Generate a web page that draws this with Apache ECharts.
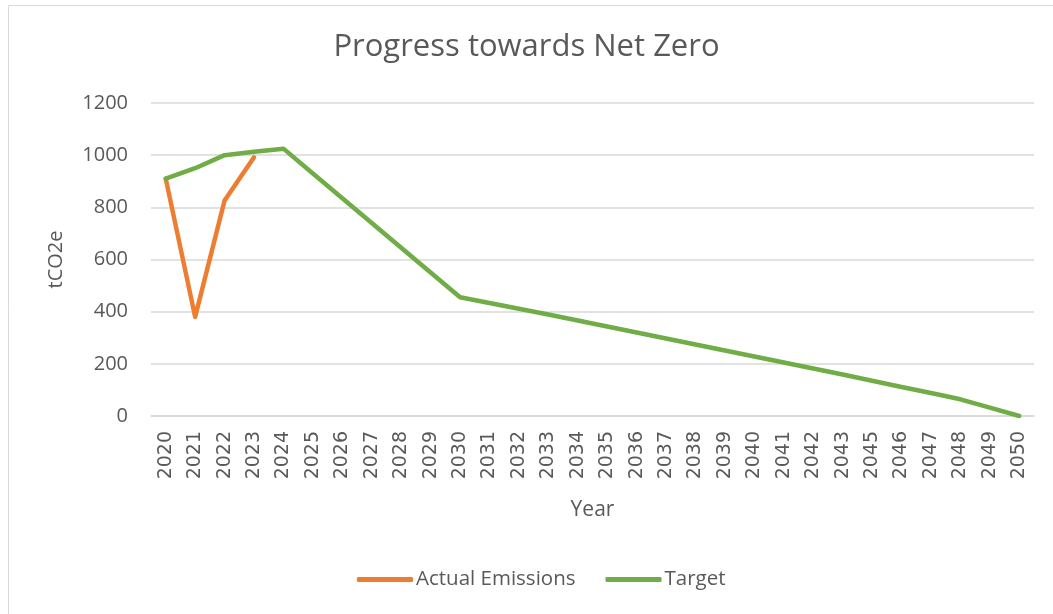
<!DOCTYPE html>
<html>
<head>
<meta charset="utf-8">
<style>
  html, body { margin: 0; padding: 0; background: #fff; }
  #chart { width: 1053px; height: 614px; }
</style>
<script src="https://cdn.jsdelivr.net/npm/echarts@6/dist/echarts.min.js"></script>
</head>
<body>
<div id="chart"></div>
<script>
// years on the axis (2044 is not in the source sheet)
var years = ['2020', '2021', '2022', '2023', '2024', '2025', '2026', '2027', '2028', '2029',
  '2030', '2031', '2032', '2033', '2034', '2035', '2036', '2037', '2038', '2039',
  '2040', '2041', '2042', '2043', '2045', '2046', '2047', '2048', '2049', '2050'];

var actualEmissions = [910, 380, 826, 992];

var target = [910, 950, 1000, 1013, 1025, 930, 835, 740, 645, 550,
  455, 433, 411, 389, 366, 343, 320, 297, 274, 251,
  228, 205, 182, 159, 135, 111, 88, 64, 32, 0];

var yTicks = { min: 0, max: 1200, interval: 200 };

var textColor = '#595959';
var chart = echarts.init(document.getElementById('chart'));

var option = {
  backgroundColor: '#fff',
  textStyle: { fontFamily: 'Open Sans' },
  graphic: [{
    type: 'rect',
    shape: { x: 8.5, y: 5.5, width: 1060, height: 620 },
    style: { fill: 'none', stroke: '#d9d9d9', lineWidth: 1 },
    silent: true
  }],
  title: {
    text: 'Progress towards Net Zero',
    left: 'center',
    top: 27,
    textStyle: { color: textColor, fontSize: 31, fontWeight: 'normal', fontFamily: 'Open Sans' }
  },
  legend: {
    top: 564,
    left: 352,
    itemWidth: 56,
    itemHeight: 5,
    itemGap: 30,
    icon: 'roundRect',
    textStyle: { color: textColor, fontSize: 20.5, padding: [0, 0, 0, -2] },
    data: ['Actual Emissions', 'Target']
  },
  grid: { left: 151, right: 19, top: 103, bottom: 198, containLabel: false },
  xAxis: {
    type: 'category',
    data: years,
    boundaryGap: true,
    name: 'Year',
    nameLocation: 'middle',
    nameGap: 84,
    nameTextStyle: { color: textColor, fontSize: 21 },
    axisLine: { lineStyle: { color: '#d9d9d9', width: 1.5 } },
    axisTick: { show: false },
    axisLabel: { rotate: 90, interval: 0, color: textColor, fontSize: 19, fontFamily: 'DejaVu Sans', margin: 15 }
  },
  yAxis: {
    type: 'value',
    min: yTicks.min,
    max: yTicks.max,
    interval: yTicks.interval,
    name: 'tCO2e',
    nameLocation: 'middle',
    nameGap: 85,
    nameRotate: 90,
    nameTextStyle: { color: textColor, fontSize: 20 },
    axisLine: { show: false },
    axisTick: { show: false },
    axisLabel: {
      color: textColor, fontSize: 20, margin: 23,
      formatter: function (v) { return String(v); }
    },
    splitLine: { lineStyle: { color: '#d9d9d9', width: 1.5 } }
  },
  series: [{
    name: 'Actual Emissions',
    type: 'line',
    data: actualEmissions,
    showSymbol: false,
    symbol: 'none',
    itemStyle: { color: '#ED7D31' },
    lineStyle: { color: '#ED7D31', width: 4.5, cap: 'round', join: 'round' }
  }, {
    name: 'Target',
    type: 'line',
    data: target,
    showSymbol: false,
    symbol: 'none',
    itemStyle: { color: '#70AD47' },
    lineStyle: { color: '#70AD47', width: 4.5, cap: 'round', join: 'round' }
  }]
};

chart.setOption(option);
window.onresize = chart.resize;
</script>
</body>
</html>
